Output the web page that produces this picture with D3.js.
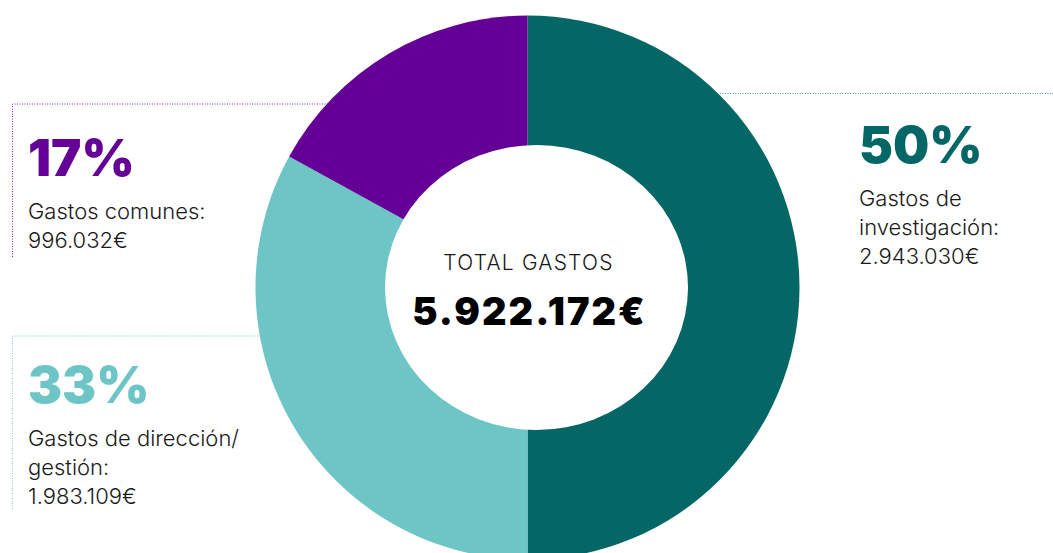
<!DOCTYPE html>
<html>
<head>
<meta charset="utf-8">
<script src="https://cdn.jsdelivr.net/npm/d3@7"></script>
<style>
  html, body { margin: 0; padding: 0; background: #fff; }
  svg { display: block; }
  .pct { font-family: Inter, sans-serif; font-weight: 900; }
  .lbl { font-family: Inter, sans-serif; font-weight: 300; fill: #1a1a1a; }
</style>
</head>
<body>
<div id="chart"></div>
<script>
// datos
var categories = ["Gastos de investigación:", "Gastos de dirección/ gestión:", "Gastos comunes:"];
var labelLines = [["Gastos de", "investigación:"], ["Gastos de dirección/", "gestión:"], ["Gastos comunes:"]];
var amounts = ["2.943.030€", "1.983.109€", "996.032€"];
var percents = [50, 33, 17];
var colors = ["#046766", "#6dc5c6", "#650097"];
var lineColors = ["#4f9c9c", "#7fcccd", "#7a2ac0"];
var totalTitle = "TOTAL GASTOS";
var totalValue = "5.922.172€";

var width = 1053;
var height = 553;
var cx = 527.5, cy = 287.5;
var R = 272;

var svg = d3.select("#chart")
    .append("svg")
    .attr("width", width)
    .attr("height", height);

// posiciones de las etiquetas
var labelPos = [
    { x: 859, y: 163, line: [[720, 93.5], [1053, 93.5]] },
    { x: 28, y: 403, line: [[12.5, 509], [12.5, 336], [300, 336]] },
    { x: 28, y: 176, line: [[12.5, 257], [12.5, 104], [380, 104]] }
];

// líneas punteadas (detrás del donut)
svg.append("g")
    .selectAll("path")
    .data(labelPos)
    .enter()
    .append("path")
    .attr("d", function (d) { return d3.line()(d.line); })
    .attr("fill", "none")
    .attr("stroke", function (d, i) { return lineColors[i]; })
    .attr("stroke-width", 1)
    .attr("stroke-dasharray", "1,1.5");

// donut
var pie = d3.pie().sort(null).value(function (d) { return d; });
var arc = d3.arc().innerRadius(0).outerRadius(R);

var g = svg.append("g")
    .attr("transform", "translate(" + cx + "," + cy + ")");

g.selectAll("path")
    .data(pie(percents))
    .enter()
    .append("path")
    .attr("d", arc)
    .attr("fill", function (d, i) { return colors[i]; });

// hueco central
svg.append("ellipse")
    .attr("cx", 536.5)
    .attr("cy", 287.5)
    .attr("rx", 151.5)
    .attr("ry", 142.5)
    .attr("fill", "#fff");

svg.append("text")
    .attr("class", "lbl")
    .attr("x", 528.5)
    .attr("y", 270)
    .attr("text-anchor", "middle")
    .style("font-size", "21px")
    .style("letter-spacing", "1.2px")
    .text(totalTitle);

svg.append("text")
    .attr("class", "pct")
    .attr("x", 529.5)
    .attr("y", 325)
    .attr("text-anchor", "middle")
    .style("font-size", "38px")
    .style("letter-spacing", "2px")
    .style("fill", "#000")
    .text(totalValue);

// etiquetas
var labels = svg.append("g")
    .selectAll("g")
    .data(labelPos)
    .enter()
    .append("g");

labels.append("text")
    .attr("class", "pct")
    .attr("x", function (d) { return d.x; })
    .attr("y", function (d) { return d.y; })
    .style("font-size", "51px")
    .style("fill", function (d, i) { return colors[i]; })
    .text(function (d, i) { return percents[i] + "%"; });

labels.each(function (d, i) {
    var lines = labelLines[i].concat([amounts[i]]);
    d3.select(this).selectAll("text.lbl")
        .data(lines)
        .enter()
        .append("text")
        .attr("class", "lbl")
        .attr("x", d.x)
        .attr("y", function (t, j) { return d.y + 43 + j * 29; })
        .style("font-size", "22px")
        .text(function (t) { return t; });
});
</script>
</body>
</html>
